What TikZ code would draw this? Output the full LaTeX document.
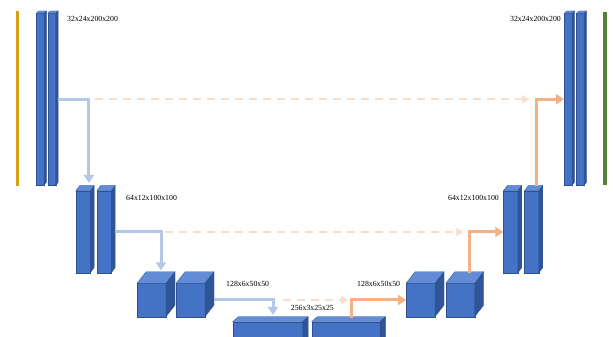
\documentclass[tikz,border=0pt]{standalone}
\usepackage{fontspec}
\setmainfont{Liberation Serif}
\usetikzlibrary{arrows.meta,calc}
\definecolor{boxfront}{RGB}{68,114,196}
\definecolor{boxtop}{RGB}{98,140,214}
\definecolor{boxside}{RGB}{47,85,151}
\definecolor{boxedge}{RGB}{47,82,143}
\definecolor{skipblue}{RGB}{180,199,231}
\definecolor{uporange}{RGB}{244,177,131}
\definecolor{dashpeach}{RGB}{250,222,204}
\definecolor{inbar}{RGB}{214,160,20}
\definecolor{outbar}{RGB}{84,130,53}
\newcommand{\boxfaces}[3]{%
  \filldraw[boxedge,fill=boxtop,line width=0.3pt] (#1.north west) -- ++(#2,#3) -- ($(#1.north east)+(#2,#3)$) -- (#1.north east) -- cycle;
  \filldraw[boxedge,fill=boxside,line width=0.3pt] (#1.north east) -- ++(#2,#3) -- ($(#1.south east)+(#2,#3)$) -- (#1.south east) -- cycle;
}
\tikzset{
  front/.style={draw=boxedge, fill=boxfront, line width=0.3pt, inner sep=0pt, outer sep=0pt, anchor=south west},
  bar/.style={inner sep=0pt, outer sep=0pt, anchor=south west, minimum width=3.8pt},
  dimlabel/.style={font=\fontsize{7.8}{9}\selectfont, inner sep=0pt},
  downarrow/.style={draw=skipblue, line width=3pt, -{Triangle[width=10pt,length=8pt]}},
  uparrow/.style={draw=uporange, line width=3pt, -{Triangle[width=10pt,length=8pt]}},
  skiparrow/.style={draw=dashpeach, line width=2pt, dash pattern=on 8pt off 6pt, -{Triangle[width=8pt,length=7pt]}},
}
\begin{document}
\begin{tikzpicture}[x=1pt,y=1pt]
\clip (0,0) rectangle (613,337);
\fill[white] (0,0) rectangle (613,337);

% input / output bars
\node[bar, fill=inbar, minimum height=175pt] (inp) at (15.5,151) {};
\node[bar, fill=outbar, minimum height=173pt] (outp) at (602.8,152) {};

% level 1
\node[front, minimum width=8pt, minimum height=171.5pt] (A1) at (36,152) {}; \boxfaces{A1}{2.5}{2.5}
\node[front, minimum width=8pt, minimum height=171.5pt] (A2) at (47.7,152) {}; \boxfaces{A2}{2.5}{2.5}
\node[front, minimum width=8pt, minimum height=171.5pt] (B1) at (564,152) {}; \boxfaces{B1}{2.5}{2.5}
\node[front, minimum width=8pt, minimum height=171.5pt] (B2) at (576,152) {}; \boxfaces{B2}{2.5}{2.5}

% level 2
\node[front, minimum width=14.5pt, minimum height=82pt] (C1) at (75.7,64) {}; \boxfaces{C1}{4}{5.5}
\node[front, minimum width=14.5pt, minimum height=82pt] (C2) at (96.7,64) {}; \boxfaces{C2}{4}{5.5}
\node[front, minimum width=14.5pt, minimum height=82pt] (D1) at (503.3,64) {}; \boxfaces{D1}{4}{5.5}
\node[front, minimum width=14.5pt, minimum height=82pt] (D2) at (524.3,64) {}; \boxfaces{D2}{4}{5.5}

% level 3
\node[front, minimum width=29pt, minimum height=33.4pt] (E1) at (137,20.3) {}; \boxfaces{E1}{9}{11.5}
\node[front, minimum width=29pt, minimum height=33.4pt] (E2) at (176,20.3) {}; \boxfaces{E2}{9}{11.5}
\node[front, minimum width=29pt, minimum height=33.4pt] (F1) at (406,20.3) {}; \boxfaces{F1}{9}{11.5}
\node[front, minimum width=29pt, minimum height=33.4pt] (F2) at (445.7,20.3) {}; \boxfaces{F2}{9}{11.5}

% level 4
\node[front, minimum width=70pt, minimum height=25.3pt] (G1) at (232.7,-10) {}; \boxfaces{G1}{5.5}{5}
\node[front, minimum width=68.3pt, minimum height=25.3pt] (G2) at (311.7,-10) {}; \boxfaces{G2}{5.5}{5}

% labels
\node[dimlabel, anchor=west] (l1) at (67,318) {32x24x200x200};
\node[dimlabel, anchor=east] (r1) at (561,318) {32x24x200x200};
\node[dimlabel, anchor=west] (l2) at (126,139) {64x12x100x100};
\node[dimlabel, anchor=east] (r2) at (499,139) {64x12x100x100};
\node[dimlabel, anchor=west] (l3) at (226,53) {128x6x50x50};
\node[dimlabel, anchor=west] (r3) at (357,53) {128x6x50x50};
\node[dimlabel, anchor=west] (l4) at (290.7,29.3) {256x3x25x25};

% skip connections (dashed)
\draw[skiparrow] ([xshift=39pt]A2.east) -- ([xshift=-35pt]B1.west);
\draw[skiparrow] ([xshift=54pt]C2.east) -- ([xshift=-40pt]D1.west);
\draw[skiparrow] ([xshift=78pt]E2.east) -- ([xshift=-58pt]F1.west);

% down path
\draw[downarrow] ([xshift=2.5pt]A2.east) -| ([xshift=6pt,yshift=8pt]C1.north);
\draw[downarrow] ([xshift=4pt]C2.east) -| ([xshift=9.5pt,yshift=13pt]E1.north);
\draw[downarrow] ([xshift=9pt]E2.east) -| ([xshift=5.3pt,yshift=6.7pt]G1.north);

% up path
\draw[uparrow] ([xshift=6pt,yshift=4pt]G2.north) |- (F1.west);
\draw[uparrow] ([xshift=9pt,yshift=10pt]F2.north) |- (D1.west);
\draw[uparrow] ([xshift=5pt,yshift=5pt]D2.north) |- (B1.west);
\end{tikzpicture}
\end{document}
